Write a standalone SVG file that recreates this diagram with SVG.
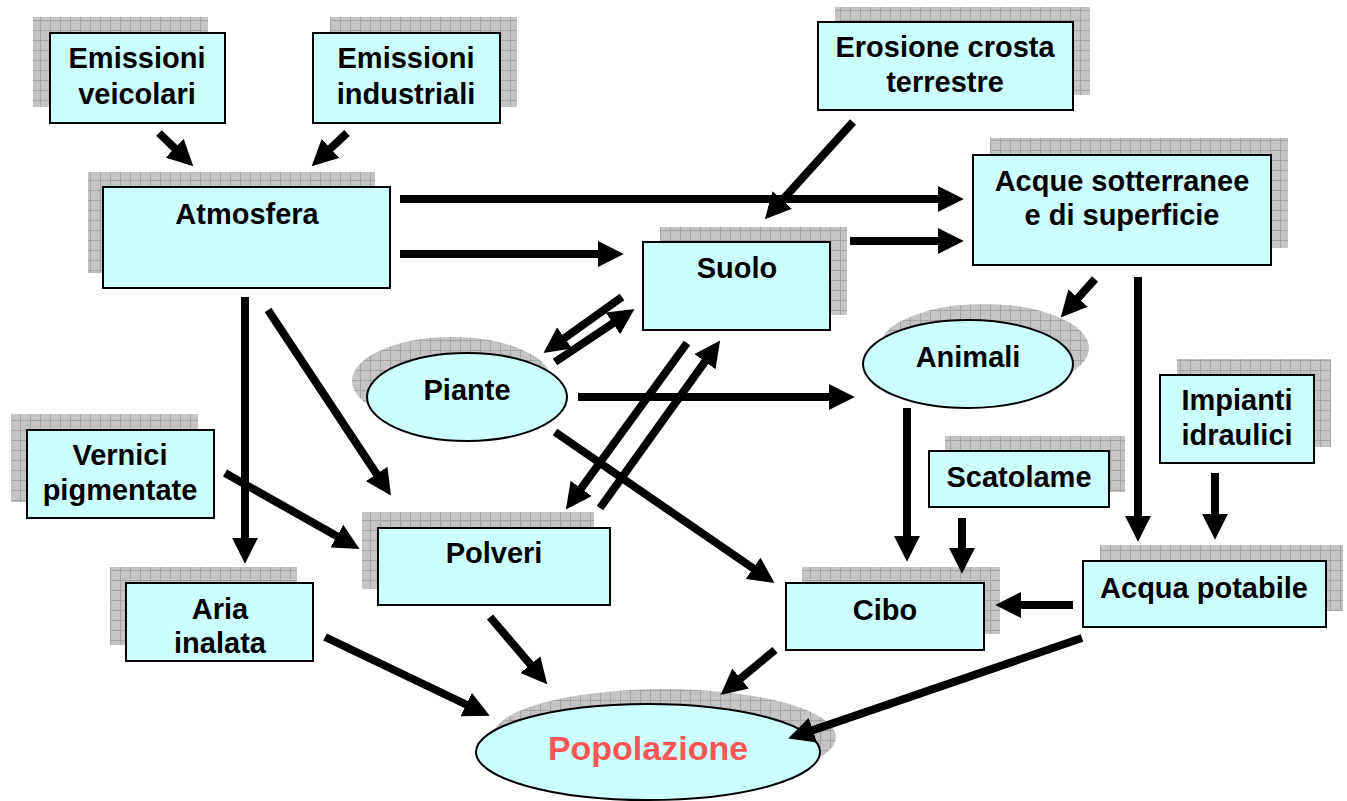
<svg xmlns="http://www.w3.org/2000/svg" width="1347" height="801" viewBox="0 0 1347 801">
<defs>
<pattern id="grid" width="10" height="10" patternUnits="userSpaceOnUse">
<rect width="10" height="10" fill="#c4c4c4"/>
<path d="M0 0.5H10M0.5 0V10" stroke="#a4a4a4" stroke-width="1"/>
</pattern>
<marker id="ah" markerUnits="userSpaceOnUse" markerWidth="26" markerHeight="26" viewBox="0 0 24 24" refX="2" refY="12" orient="auto">
<path d="M0 0L24 12L0 24z" fill="#000"/>
</marker>
<style>
.sh{fill:url(#grid);}
.bx{fill:#ccffff;stroke:#000;stroke-width:2;}
.t{font-family:"Liberation Sans",Arial,sans-serif;font-weight:bold;font-size:29px;text-anchor:middle;fill:#000;}
.pop{font-size:34px;fill:#ff5555;}
.c line{stroke:#000;stroke-width:8;marker-end:url(#ah);}
</style>
</defs>
<rect width="1347" height="801" fill="#fff"/>

<g id="emissioni-veicolari">
<rect class="sh" x="33" y="17" width="175" height="90"/>
<rect class="bx" x="50" y="33" width="175" height="90"/>
<text class="t" x="137" y="68">Emissioni</text>
<text class="t" x="137" y="104">veicolari</text>
</g>
<g id="emissioni-industriali">
<rect class="sh" x="330" y="17" width="187" height="90"/>
<rect class="bx" x="313" y="33" width="187" height="90"/>
<text class="t" x="406" y="68">Emissioni</text>
<text class="t" x="406" y="104">industriali</text>
</g>
<g id="erosione">
<rect class="sh" x="835" y="7" width="255" height="88"/>
<rect class="bx" x="818" y="22" width="255" height="88"/>
<text class="t" x="945" y="57">Erosione crosta</text>
<text class="t" x="945" y="92">terrestre</text>
</g>
<g id="atmosfera">
<rect class="sh" x="88" y="172" width="287" height="101"/>
<rect class="bx" x="103" y="187" width="287" height="101"/>
<text class="t" x="247" y="224">Atmosfera</text>
</g>
<g id="acque">
<rect class="sh" x="990" y="138" width="298" height="110"/>
<rect class="bx" x="973" y="155" width="298" height="110"/>
<text class="t" x="1122" y="191">Acque sotterranee</text>
<text class="t" x="1122" y="225">e di superficie</text>
</g>
<g id="suolo">
<rect class="sh" x="660" y="227" width="187" height="88"/>
<rect class="bx" x="643" y="242" width="187" height="88"/>
<text class="t" x="737" y="278">Suolo</text>
</g>
<g id="piante">
<ellipse class="sh" cx="452" cy="381" rx="100" ry="44"/>
<ellipse class="bx" cx="467" cy="397" rx="100" ry="44"/>
<text class="t" x="467" y="400">Piante</text>
</g>
<g id="animali">
<ellipse class="sh" cx="984" cy="348" rx="105" ry="44"/>
<ellipse class="bx" cx="968" cy="364" rx="105" ry="44"/>
<text class="t" x="968" y="367">Animali</text>
</g>
<g id="vernici">
<rect class="sh" x="11" y="414" width="187" height="88"/>
<rect class="bx" x="27" y="430" width="187" height="88"/>
<text class="t" x="120" y="465">Vernici</text>
<text class="t" x="120" y="500">pigmentate</text>
</g>
<g id="aria">
<rect class="sh" x="110" y="567" width="187" height="78"/>
<rect class="bx" x="126" y="583" width="187" height="78"/>
<text class="t" x="220" y="619">Aria</text>
<text class="t" x="220" y="653">inalata</text>
</g>
<g id="polveri">
<rect class="sh" x="362" y="512" width="232" height="77"/>
<rect class="bx" x="378" y="528" width="232" height="77"/>
<text class="t" x="494" y="563">Polveri</text>
</g>
<g id="scatolame">
<rect class="sh" x="945" y="436" width="180" height="56"/>
<rect class="bx" x="929" y="451" width="180" height="56"/>
<text class="t" x="1019" y="487">Scatolame</text>
</g>
<g id="cibo">
<rect class="sh" x="802" y="567" width="198" height="67"/>
<rect class="bx" x="786" y="583" width="198" height="67"/>
<text class="t" x="885" y="620">Cibo</text>
</g>
<g id="impianti">
<rect class="sh" x="1177" y="359" width="154" height="88"/>
<rect class="bx" x="1160" y="375" width="154" height="88"/>
<text class="t" x="1237" y="410">Impianti</text>
<text class="t" x="1237" y="445">idraulici</text>
</g>
<g id="acqua-potabile">
<rect class="sh" x="1100" y="545" width="243" height="66"/>
<rect class="bx" x="1083" y="561" width="243" height="66"/>
<text class="t" x="1204" y="598">Acqua potabile</text>
</g>
<g id="popolazione">
<ellipse class="sh" cx="664" cy="737" rx="172" ry="48"/>
<ellipse class="bx" cx="648" cy="752" rx="172" ry="48"/>
<text class="t pop" x="648" y="760">Popolazione</text>
</g>

<g id="connectors" class="c">
<line x1="159" y1="133" x2="176.2" y2="149.7"/>
<line x1="347" y1="133" x2="329" y2="149.9"/>
<line x1="400" y1="199" x2="940" y2="199"/>
<line x1="400" y1="254" x2="600" y2="254"/>
<line x1="853" y1="122" x2="780.8" y2="201.7"/>
<line x1="850" y1="241" x2="940" y2="241"/>
<line x1="1095" y1="279" x2="1076.6" y2="299.6"/>
<line x1="1138" y1="277" x2="1138" y2="518"/>
<line x1="622" y1="297" x2="562.9" y2="339.2"/>
<line x1="555" y1="362" x2="614.7" y2="322.2"/>
<line x1="687" y1="343" x2="579.9" y2="490.2"/>
<line x1="600" y1="508" x2="706.2" y2="359.9"/>
<line x1="578" y1="397" x2="831" y2="397"/>
<line x1="555" y1="432" x2="754.9" y2="569.5"/>
<line x1="245" y1="297" x2="245" y2="540"/>
<line x1="268" y1="310" x2="377.8" y2="475.7"/>
<line x1="225" y1="473" x2="338.8" y2="537.2"/>
<line x1="907" y1="408" x2="907" y2="538"/>
<line x1="962" y1="518" x2="962" y2="550"/>
<line x1="1215" y1="473" x2="1215" y2="516"/>
<line x1="1073" y1="605" x2="1019" y2="605"/>
<line x1="325" y1="637" x2="468.2" y2="705.5"/>
<line x1="490" y1="617" x2="531.8" y2="666.2"/>
<line x1="775" y1="650" x2="738.9" y2="679.9"/>
<line x1="1082" y1="638" x2="810.8" y2="730.9"/>
</g>
</svg>
